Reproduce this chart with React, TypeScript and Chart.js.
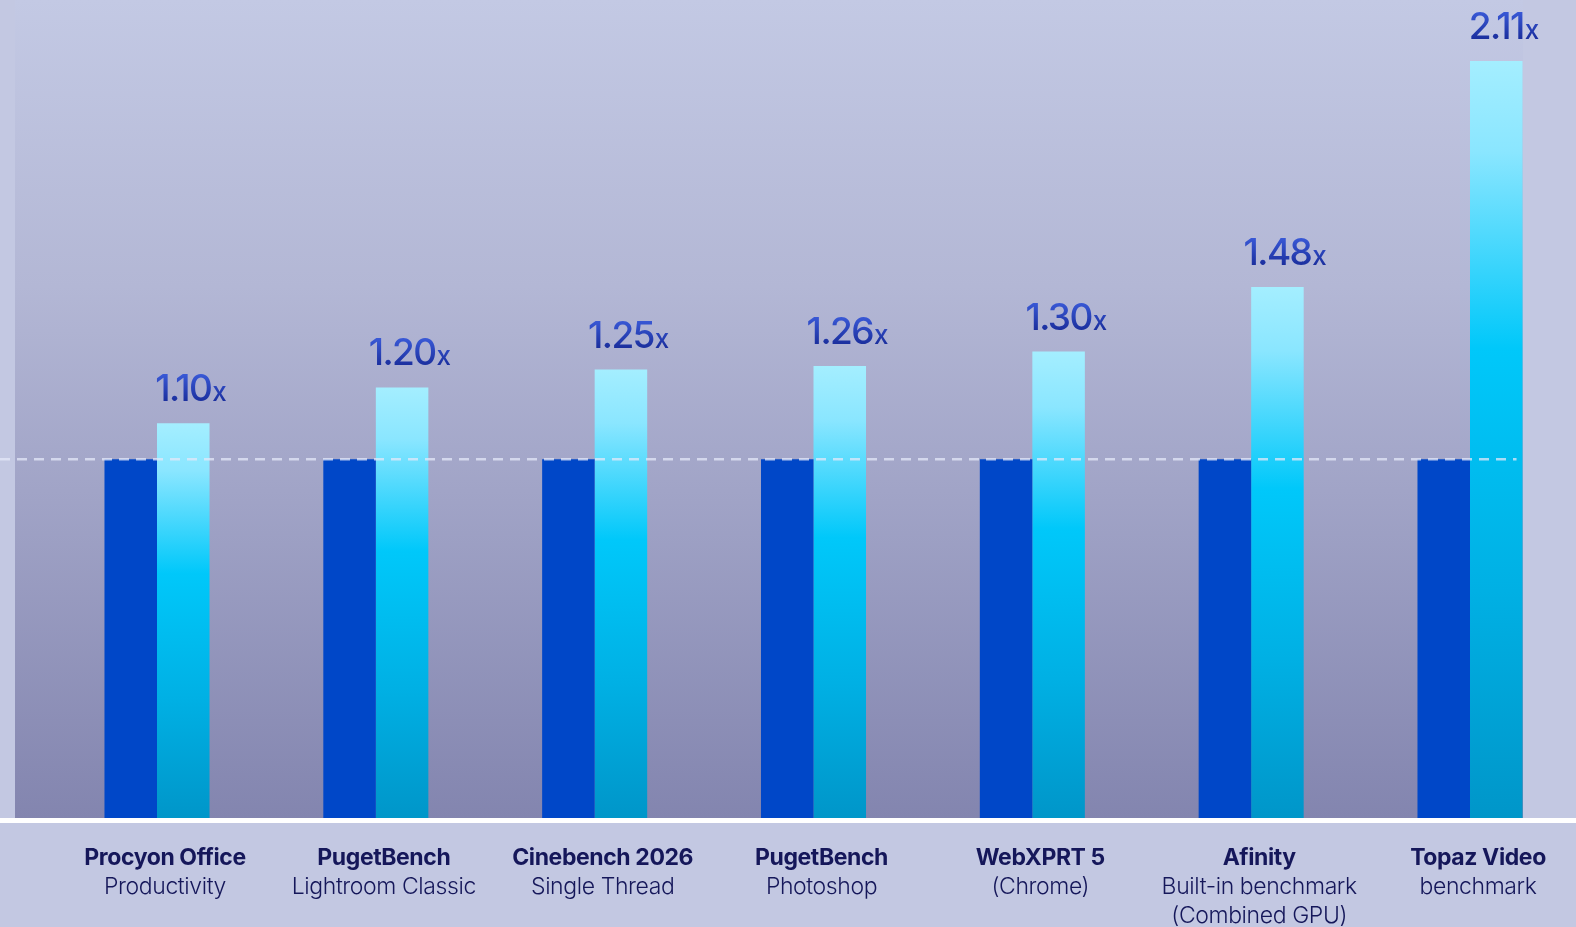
import React, { useEffect, useRef } from "react";
import { Chart, registerables } from "chart.js";

Chart.register(...registerables);

const categories = ["Procyon Office", "PugetBench", "Cinebench 2026", "PugetBench", "WebXPRT 5", "Afinity", "Topaz Video"];
const subtitles = [
  ["Productivity"],
  ["Lightroom Classic"],
  ["Single Thread"],
  ["Photoshop"],
  ["(Chrome)"],
  ["Built-in benchmark", "(Combined GPU)"],
  ["benchmark"],
];
const baselineValues = [1, 1, 1, 1, 1, 1, 1];
const newValues = [1.1, 1.2, 1.25, 1.26, 1.3, 1.48, 2.11];
const valueLabels = ["1.10", "1.20", "1.25", "1.26", "1.30", "1.48", "2.11"];
const referenceLine = 1;

const FONT = "Inter, 'Noto Sans', sans-serif";

const decorPlugin = {
  id: "decor",
  beforeDraw(chart: any) {
    const { ctx, chartArea, scales } = chart;
    const W = chart.width;
    const H = chart.height;
    ctx.save();
    ctx.fillStyle = "#c3c8e2";
    ctx.fillRect(0, 0, W, H);
    const y0 = scales.y.getPixelForValue(0);
    const left = chartArea.left - 142;
    const right = chartArea.right + 53;
    const g = ctx.createLinearGradient(0, 0, 0, y0);
    g.addColorStop(0, "#c3c9e4");
    g.addColorStop(0.35, "#b3b7d5");
    g.addColorStop(0.6, "#a1a4c7");
    g.addColorStop(1, "#8385af");
    ctx.fillStyle = g;
    ctx.fillRect(left, 0, right - left, y0);
    ctx.restore();
  },
  afterDatasetsDraw(chart: any) {
    const { ctx, scales } = chart;
    const W = chart.width;
    const xs = scales.x;
    const ys = scales.y;
    const y0 = ys.getPixelForValue(0);
    const y1 = ys.getPixelForValue(referenceLine);
    const meta1 = chart.getDatasetMeta(1);
    ctx.save();
    // dashed reference line
    ctx.strokeStyle = "rgba(228,232,248,0.75)";
    ctx.lineWidth = 2.5;
    ctx.setLineDash([10, 7]);
    ctx.beginPath();
    ctx.moveTo(0, y1);
    const lastBar = meta1.data[meta1.data.length - 1];
    ctx.lineTo(lastBar.x + lastBar.width / 2 - 6, y1);
    ctx.stroke();
    ctx.setLineDash([]);
    // white baseline
    ctx.fillStyle = "#ffffff";
    ctx.fillRect(0, y0, W, 5);

    // value labels
    meta1.data.forEach((bar: any, i: number) => {
      const txt = valueLabels[i];
      const base = bar.y - 22;
      ctx.font = `500 37px ${FONT}`;
      (ctx as any).letterSpacing = "-1.6px";
      const w = ctx.measureText(txt).width;
      const g = ctx.createLinearGradient(0, base - 28, 0, base);
      g.addColorStop(0, "#3a5ad8");
      g.addColorStop(1, "#1b2f9e");
      ctx.fillStyle = g;
      ctx.textAlign = "left";
      ctx.textBaseline = "alphabetic";
      ctx.fillText(txt, bar.x - w / 2, base);
      ctx.font = `500 26px ${FONT}`;
      (ctx as any).letterSpacing = "0px";
      ctx.fillText("x", bar.x + w / 2 + 1, base);
    });

    // category labels
    ctx.fillStyle = "#15175a";
    ctx.textAlign = "center";
    ctx.textBaseline = "alphabetic";
    categories.forEach((c, i) => {
      const x = xs.getPixelForValue(i) + 8;
      ctx.font = `700 23px ${FONT}`;
      (ctx as any).letterSpacing = "-0.4px";
      ctx.fillText(c, x, y0 + 47);
      ctx.font = `300 23px ${FONT}`;
      (ctx as any).letterSpacing = "-0.4px";
      subtitles[i].forEach((s, j) => {
        ctx.fillText(s, x, y0 + 76 + j * 29);
      });
    });
    (ctx as any).letterSpacing = "0px";
    ctx.restore();
  },
};

export default function App() {
  const canvasRef = useRef<HTMLCanvasElement | null>(null);

  useEffect(() => {
    if (!canvasRef.current) return;
    const chart = new Chart(canvasRef.current, {
      type: "bar",
      data: {
        labels: categories,
        datasets: [
          {
            label: "Previous",
            data: baselineValues,
            backgroundColor: "#0047c8",
            borderWidth: 0,
            clip: false as any,
          },
          {
            label: "New",
            data: newValues,
            backgroundColor: (c: any) => {
              const ch = c.chart;
              const ys = ch.scales && ch.scales.y;
              if (!ch.chartArea || !ys || typeof c.raw !== "number") return "#00c0f0";
              const top = ys.getPixelForValue(c.raw);
              const bottom = ys.getPixelForValue(0);
              const g = ch.ctx.createLinearGradient(0, top, 0, bottom);
              g.addColorStop(0, "#a4eeff");
              g.addColorStop(0.12, "#8ae6ff");
              g.addColorStop(0.38, "#00c8fa");
              g.addColorStop(0.7, "#00b0e4");
              g.addColorStop(1, "#0096c9");
              return g;
            },
            borderWidth: 0,
            clip: false as any,
          },
        ],
      },
      options: {
        animation: false,
        responsive: true,
        maintainAspectRatio: false,
        layout: { padding: { left: 157, right: 106, top: 0, bottom: 109 } },
        datasets: { bar: { barPercentage: 1, categoryPercentage: 0.48 } },
        plugins: { legend: { display: false }, tooltip: { enabled: false } },
        scales: {
          x: {
            offset: false,
            display: false,
            grid: { display: false },
          },
          y: {
            display: false,
            min: 0,
            max: 2.28,
            grid: { display: false },
          },
        },
      },
      plugins: [decorPlugin],
    });
    return () => chart.destroy();
  }, []);

  return (
    <div style={{ position: "fixed", left: 0, top: 0, width: 1576, height: 927, background: "#c3c8e2" }}>
      <canvas ref={canvasRef} />
    </div>
  );
}
